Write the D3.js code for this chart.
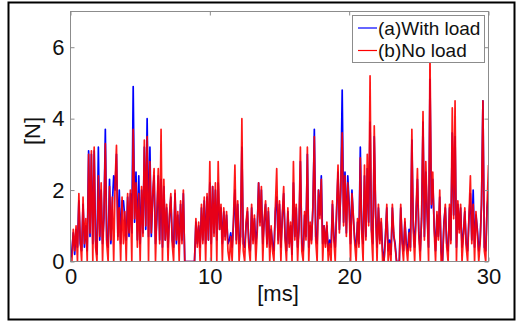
<!DOCTYPE html>
<html>
<head>
<meta charset="utf-8">
<script src="https://cdn.jsdelivr.net/npm/d3@7"></script>
<style>
  html, body { margin: 0; padding: 0; background: #fff; }
  svg { display: block; font-family: "Liberation Sans", Arial, sans-serif; }
</style>
</head>
<body>
<svg id="chart" width="518" height="323"></svg>
<script>
// sample timing (ms)
const sampleStart = 0;
const sampleStep = 0.1;

// (b) No load  [N], one value per 0.1 ms from 0 to 30 ms
const noLoad = [
  0, 0, 0.9, 0.3, 1.0, 0, 1.9, 0.6, 0, 1.8,
  0.5, 1.2, 0, 3.0, 0.8, 3.1, 0, 3.2, 0.4, 0,
  2.4, 0.7, 2.2, 0, 1.4, 3.3, 0.5, 0, 2.1, 0.6,
  1.8, 0, 2.2, 3.25, 0.6, 1.5, 0, 1.8, 0.5, 1.4,
  0, 1.9, 0.8, 2.0, 0, 3.7, 1.2, 2.2, 0.4, 1.9,
  0, 2.1, 0.7, 3.4, 1.0, 3.5, 0, 2.8, 0.8, 1.9,
  2.6, 0, 1.4, 2.6, 0.5, 3.7, 0, 2.3, 0.6, 1.6,
  0, 1.3, 1.9, 0.5, 0, 2.0, 0.6, 1.4, 0, 1.7,
  0.5, 2.0, 0, 0, 0, 0, 0, 0, 0, 0,
  1.2, 0.4, 1.1, 0, 1.6, 0.5, 1.8, 0, 1.9, 0.6,
  2.8, 0, 2.1, 0.7, 2.2, 0, 2.8, 0.9, 1.6, 0,
  1.5, 0.6, 1.4, 0.3, 0, 0.7, 0, 1.2, 2.7, 0.5,
  1.7, 0, 0.6, 4.0, 0.3, 0, 1.1, 1.5, 0.4, 0,
  1.6, 0.5, 1.3, 0, 0.8, 2.2, 1.0, 2.1, 0, 1.2,
  1.7, 0.4, 1.5, 0, 1.0, 0.3, 0, 1.5, 2.6, 0.5,
  1.7, 0, 1.3, 2.1, 0.6, 0, 1.5, 0.4, 1.1, 0,
  2.8, 0.6, 1.6, 0, 1.0, 3.2, 0.3, 0, 1.4, 0.6,
  3.2, 0, 1.1, 0.5, 1.6, 3.5, 0.6, 0, 2.0, 1.2,
  2.3, 0, 1.0, 0.4, 1.1, 0, 0.5, 0, 1.7, 0.6,
  0, 1.5, 2.7, 0.8, 2.2, 3.6, 1.0, 2.4, 0.7, 2.2,
  1.5, 0, 1.9, 1.3, 0.5, 0, 1.2, 0.4, 2.9, 0.8,
  0, 2.7, 0.6, 3.0, 1.0, 5.2, 0.8, 0, 3.8, 1.4,
  0, 1.6, 0.5, 1.2, 0, 0, 0.6, 1.6, 0, 0.5,
  0, 1.6, 0.8, 0.4, 0, 0, 0, 1.6, 0.5, 0,
  1.2, 0.4, 0, 0.8, 0.3, 3.7, 0.9, 0, 1.4, 2.6,
  0.7, 0, 1.3, 4.2, 0.6, 2.8, 1.4, 0, 5.8, 1.6,
  2.5, 0.9, 0, 1.4, 0.6, 2.0, 0, 0, 1.0, 1.6,
  0.4, 0, 1.6, 0.5, 4.3, 1.2, 4.5, 0, 1.7, 0.8,
  1.6, 0, 0.7, 1.5, 0.4, 0, 1.3, 2.4, 0.5, 1.6,
  0, 1.4, 0.8, 0, 0.5, 1.7, 4.5, 0.3, 0, 1.6,
  2.7
];

// (a) With load [N]
const withLoad = [
  0, 0.3, 0.8, 0.2, 0.9, 0.4, 1.7, 0.5, 0.3, 1.6,
  0.4, 1.0, 0.3, 3.1, 0.7, 3.0, 0.5, 3.1, 0.6, 0.2,
  3.2, 0.6, 2.0, 0.5, 1.2, 3.7, 0.6, 0.4, 2.3, 0.5,
  1.6, 2.4, 2.0, 3.0, 0.7, 2.0, 0.5, 1.7, 1.7, 1.2,
  0.6, 1.8, 0.7, 1.9, 0.8, 4.9, 1.1, 2.5, 0.6, 2.4,
  0.5, 2.0, 0.8, 3.2, 0.9, 4.0, 0.7, 3.2, 0.7, 1.8,
  2.4, 0.5, 1.2, 2.4, 0.6, 2.3, 0.4, 2.1, 0.6, 1.5,
  0.4, 1.2, 1.8, 0.6, 0.4, 1.9, 0.5, 1.3, 0.5, 1.6,
  0.6, 1.9, 0, 0, 0, 0, 0, 0, 0, 0,
  1.1, 0.5, 1.0, 0.4, 1.5, 0.6, 1.7, 0.5, 1.8, 0.6,
  2.2, 0.5, 2.1, 0.8, 2.0, 0.6, 2.2, 0.9, 1.5, 0.5,
  1.4, 0.7, 1.3, 0.5, 0.6, 0.8, 0.4, 1.1, 2.0, 0.6,
  1.6, 0.5, 0.7, 3.2, 0.5, 0.4, 1.0, 1.4, 0.5, 0.3,
  1.5, 0.6, 1.2, 0.5, 0.9, 2.2, 1.1, 2.0, 0.5, 1.1,
  1.6, 0.5, 1.4, 0.4, 0.9, 0.5, 0.3, 1.4, 1.8, 0.6,
  1.6, 0.4, 1.2, 1.9, 0.7, 0.3, 1.4, 0.5, 1.0, 0.2,
  2.2, 0.7, 1.5, 0.4, 0.9, 2.8, 0.5, 0.3, 1.3, 0.7,
  3.0, 0.4, 1.0, 0.6, 1.5, 3.7, 0.7, 0.5, 2.0, 1.3,
  2.4, 0.5, 1.0, 0.5, 1.0, 0.3, 0.6, 0.4, 1.6, 0.7,
  0.4, 1.4, 2.5, 0.9, 2.0, 4.8, 1.1, 2.5, 0.8, 2.4,
  1.6, 0.5, 2.0, 1.2, 0.6, 0.4, 1.1, 0.5, 3.2, 0.9,
  0.5, 2.4, 0.7, 2.6, 1.1, 3.9, 0.9, 0.5, 3.5, 1.3,
  0.4, 1.5, 0.6, 1.1, 0.3, 0, 0.7, 1.5, 0.3, 0.6,
  0.2, 1.5, 0.7, 0.5, 0, 0, 0, 1.5, 0.6, 0.3,
  1.1, 0.5, 0.3, 0.9, 0.4, 3.4, 1.0, 0.4, 1.3, 2.3,
  0.8, 0.3, 1.2, 3.9, 0.7, 2.5, 1.3, 0.4, 5.1, 1.5,
  2.3, 1.0, 0.3, 1.3, 0.7, 1.8, 0.3, 0, 1.1, 1.5,
  0.5, 0.3, 1.5, 0.6, 3.6, 1.3, 3.5, 0.4, 1.6, 0.9,
  1.5, 0.4, 0.8, 1.4, 0.5, 0.3, 1.2, 1.9, 0.6, 2.0,
  0.4, 1.3, 0.9, 0.3, 0.6, 1.6, 4.5, 0.4, 0.3, 1.5,
  1.9
];

const xTicks = [0, 10, 20, 30];
const yTicks = [0, 2, 4, 6];
const xDomain = [0, 30];
const yDomain = [0, 7];
const seriesNames = ["(a)With load", "(b)No load"];
const seriesColors = ["#0000ff", "#ff0000"];

const svg = d3.select("#chart");

// outer frame
svg.append("rect").attr("x", 8.5).attr("y", 2.5).attr("width", 506).attr("height", 317)
  .attr("fill", "#fff").attr("stroke", "#000").attr("stroke-width", 2);

const plot = { left: 70.5, right: 488.5, top: 11.5, bottom: 261.5 };
const x = d3.scaleLinear().domain(xDomain).range([plot.left, plot.right]);
const y = d3.scaleLinear().domain(yDomain).range([plot.bottom, plot.top]);

const g = svg.append("g");
const clipId = "clipPlot";
svg.append("clipPath").attr("id", clipId).append("rect")
  .attr("x", plot.left).attr("y", plot.top)
  .attr("width", plot.right - plot.left).attr("height", plot.bottom - plot.top);

const line = d3.line()
  .x((d, i) => x(sampleStart + i * sampleStep))
  .y(d => y(d));

const series = [withLoad, noLoad];
const widths = [1.7, 1.7];
const lines = g.append("g").attr("clip-path", `url(#${clipId})`);
series.forEach((s, k) => {
  lines.append("path").datum(s)
    .attr("d", line)
    .attr("fill", "none")
    .attr("stroke", seriesColors[k])
    .attr("stroke-width", widths[k])
    .attr("stroke-linejoin", "round")
    .attr("opacity", k === 1 ? 0.9 : 1);
});

// axes box (gray) with inward ticks
const axisColor = "#8c8c8c";
g.append("rect").attr("x", plot.left).attr("y", plot.top)
  .attr("width", plot.right - plot.left).attr("height", plot.bottom - plot.top)
  .attr("fill", "none").attr("stroke", axisColor).attr("stroke-width", 1);

const fmt = d3.format("d");
const xAxisB = d3.axisBottom(x).tickValues(xTicks).tickFormat(fmt).tickSizeInner(-4).tickSizeOuter(0).tickPadding(7);
const yAxisL = d3.axisLeft(y).tickValues(yTicks).tickFormat(fmt).tickSizeInner(-4).tickSizeOuter(0).tickPadding(6);
const xAxisT = d3.axisTop(x).tickValues(xTicks).tickSizeInner(-4).tickSizeOuter(0).tickFormat("");
const yAxisR = d3.axisRight(y).tickValues(yTicks).tickSizeInner(-4).tickSizeOuter(0).tickFormat("");

function styleAxis(sel) {
  sel.select(".domain").remove();
  sel.selectAll(".tick line").attr("stroke", axisColor);
  sel.selectAll(".tick text").attr("fill", "#111").style("font-size", "22px")
    .style("font-family", "'Liberation Sans', Arial, sans-serif");
}
g.append("g").attr("transform", `translate(0,${plot.bottom})`).call(xAxisB).call(styleAxis)
  .selectAll(".tick text").attr("dy", "0.71em");
g.append("g").attr("transform", `translate(${plot.left},0)`).call(yAxisL).call(styleAxis);
g.append("g").attr("transform", `translate(0,${plot.top})`).call(xAxisT).call(styleAxis);
g.append("g").attr("transform", `translate(${plot.right},0)`).call(yAxisR).call(styleAxis);

// axis labels
svg.append("text").attr("x", 278).attr("y", 301).attr("text-anchor", "middle")
  .style("font-size", "22px").attr("fill", "#111").text("[ms]");
svg.append("text").attr("transform", "translate(40,131) rotate(-90)").attr("text-anchor", "middle")
  .style("font-size", "22px").attr("fill", "#111").text("[N]");

// legend
const lg = svg.append("g");
lg.append("rect").attr("x", 352.5).attr("y", 15.5).attr("width", 132).attr("height", 47)
  .attr("fill", "#fff").attr("stroke", axisColor).attr("stroke-width", 1);
seriesNames.forEach((name, k) => {
  const yy = 28 + k * 22.5;
  lg.append("line").attr("x1", 358).attr("x2", 377).attr("y1", yy).attr("y2", yy)
    .attr("stroke", seriesColors[k]).attr("stroke-width", 1.2);
  lg.append("text").attr("x", 378).attr("y", yy + 6.5)
    .style("font-size", "19px").attr("fill", "#111").text(name);
});
</script>
</body>
</html>
